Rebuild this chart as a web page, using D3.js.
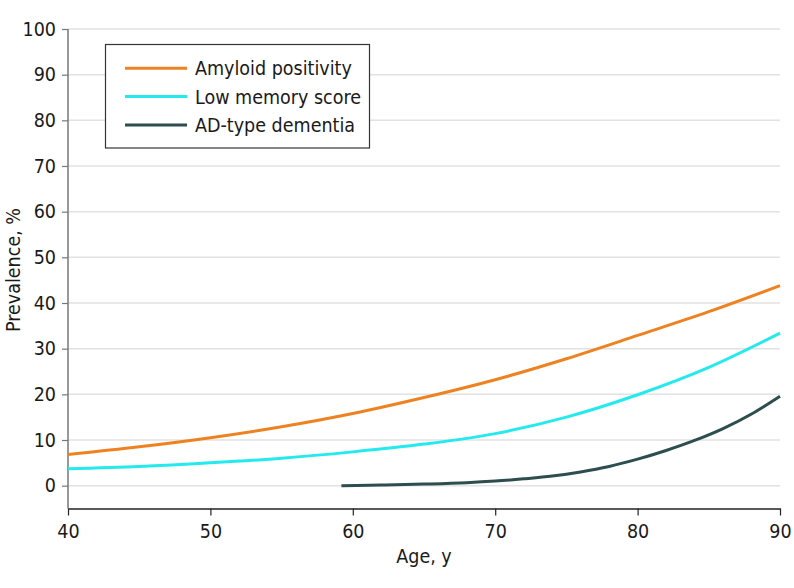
<!DOCTYPE html>
<html><head><meta charset="utf-8">
<script src="https://cdn.jsdelivr.net/npm/d3@7"></script>
<style>body{margin:0;background:#fff}svg{display:block}text{font-family:"DejaVu Sans Condensed","DejaVu Sans",sans-serif;fill:#1a1a1a}</style>
</head><body><svg id="c" width="794" height="588"></svg>
<script>
const xTicks = [40, 50, 60, 70, 80, 90];
const yTicks = [0, 10, 20, 30, 40, 50, 60, 70, 80, 90, 100];
const seriesNames = ["Amyloid positivity", "Low memory score", "AD-type dementia"];
const seriesColors = ["#ee8221", "#24eaee", "#2d4d4e"];
const amyloidAges = [40, 45, 50, 55, 60, 65, 70, 75, 80, 85, 90];
const amyloidVals = [6.8, 8.5, 10.5, 12.9, 15.8, 19.3, 23.2, 27.8, 32.9, 38.1, 43.8];
const memoryAges = [40, 45, 50, 55, 60, 65, 70, 75, 80, 85, 90];
const memoryVals = [3.7, 4.2, 5.0, 6.0, 7.4, 9.1, 11.4, 15.0, 19.9, 25.9, 33.4];
const adAges = [59.2, 62, 65, 68, 70, 72, 74, 76, 78, 80, 82, 84, 86, 88, 90];
const adVals = [0, 0.15, 0.35, 0.65, 1.0, 1.5, 2.1, 3.0, 4.2, 5.8, 7.7, 9.9, 12.5, 15.7, 19.6];

const FS = 19.5;
const svg = d3.select("#c");
const x = d3.scaleLinear().domain([40, 90]).range([68, 780]);
const y = d3.scaleLinear().domain([-5, 100]).range([508.5, 29]);

// gridlines
svg.append("g").selectAll("line").data(yTicks).join("line")
  .attr("x1", 68).attr("x2", 780)
  .attr("y1", d => y(d)).attr("y2", d => y(d))
  .attr("stroke", "#e2e2e2").attr("stroke-width", 1.5);

// y axis
const ya = svg.append("g").attr("transform", "translate(68,0)")
  .call(d3.axisLeft(y).tickValues(yTicks).tickSize(6).tickPadding(6));
ya.attr("font-size", null).attr("font-family", null);
ya.select(".domain").attr("stroke", "#777").attr("stroke-width", 1.5).attr("d", `M0,${y(100)}V${y(-5)}`);
ya.selectAll(".tick line").attr("stroke", "#777").attr("stroke-width", 1.2);
ya.selectAll(".tick text").style("font-size", FS + "px").attr("fill", "#1a1a1a");

// x axis
const xa = svg.append("g").attr("transform", `translate(0,${y(-5)})`)
  .call(d3.axisBottom(x).tickValues(xTicks).tickSize(7).tickPadding(9).tickSizeOuter(0));
xa.attr("font-size", null).attr("font-family", null);
xa.select(".domain").attr("stroke", "#222").attr("stroke-width", 1.5);
xa.selectAll(".tick line").attr("stroke", "#222").attr("stroke-width", 1.2);
xa.selectAll(".tick text").style("font-size", FS + "px").attr("fill", "#1a1a1a");

// axis titles
svg.append("text").attr("x", 424).attr("y", 563).attr("text-anchor", "middle").style("font-size", FS + "px").text("Age, y");
svg.append("text").attr("transform", "translate(20,270) rotate(-90)").attr("text-anchor", "middle").style("font-size", FS + "px").text("Prevalence, %");

// lines
const line = d3.line().x(d => x(d[0])).y(d => y(d[1])).curve(d3.curveMonotoneX);
const data = [
  amyloidAges.map((a, i) => [a, amyloidVals[i]]),
  memoryAges.map((a, i) => [a, memoryVals[i]]),
  adAges.map((a, i) => [a, adVals[i]])
];
svg.append("g").selectAll("path").data(data).join("path")
  .attr("d", line).attr("fill", "none")
  .attr("stroke", (d, i) => seriesColors[i]).attr("stroke-width", 3);

// legend
const lg = svg.append("g");
lg.append("rect").attr("x", 105.5).attr("y", 44.5).attr("width", 264).attr("height", 103.5)
  .attr("fill", "#fff").attr("stroke", "#333").attr("stroke-width", 1.2);
seriesNames.forEach((n, i) => {
  const yy = 68.3 + i * 28.3;
  lg.append("line").attr("x1", 125).attr("x2", 187).attr("y1", yy).attr("y2", yy)
    .attr("stroke", seriesColors[i]).attr("stroke-width", 3);
  lg.append("text").attr("x", 195).attr("y", yy + 7).style("font-size", FS + "px").text(n);
});
</script></body></html>
